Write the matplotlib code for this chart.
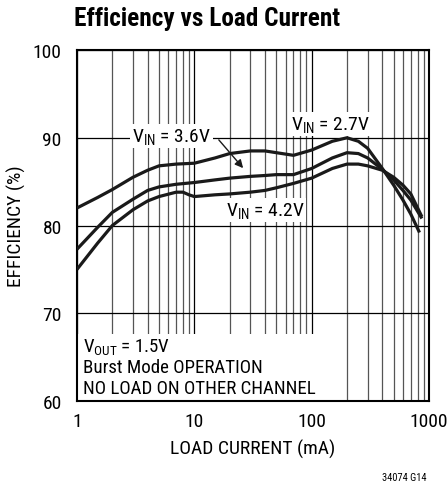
import numpy as np
import matplotlib
matplotlib.use('Agg')
import matplotlib.pyplot as plt
from matplotlib.patches import Rectangle

# load current (mA) and efficiency (%)
load_a = [1, 1.5, 2, 3, 4, 5, 7, 10, 15, 20, 30, 40, 50, 70, 100, 150, 200, 250, 300, 400, 500, 600, 700, 830]
eff_a = [82.0, 83.2, 84.1, 85.5, 86.3, 86.8, 87.0, 87.1, 87.7, 88.2, 88.5, 88.5, 88.3, 88.0, 88.6, 89.6, 90.0, 89.6, 88.8, 86.5, 84.6, 82.9, 81.3, 79.2]

load_b = [1, 1.5, 2, 3, 4, 5, 7, 10, 15, 20, 30, 40, 50, 70, 100, 150, 200, 250, 300, 400, 500, 600, 700, 870]
eff_b = [77.3, 79.8, 81.5, 83.0, 84.0, 84.4, 84.7, 84.9, 85.2, 85.4, 85.6, 85.7, 85.8, 85.8, 86.5, 87.7, 88.3, 88.2, 87.7, 86.4, 85.2, 84.0, 82.9, 80.8]

load_c = [1, 1.5, 2, 3, 4, 5, 7, 8, 9, 10, 15, 20, 30, 40, 50, 70, 100, 150, 200, 250, 300, 400, 500, 600, 700, 870]
eff_c = [75.0, 78.0, 80.0, 81.8, 82.8, 83.3, 83.8, 83.8, 83.5, 83.3, 83.5, 83.6, 83.8, 84.0, 84.3, 84.8, 85.4, 86.5, 87.0, 87.0, 86.8, 86.3, 85.5, 84.6, 83.6, 81.0]

x_ticks = [1, 10, 100, 1000]
x_ticklabels = ['1', '10', '100', '1000']
y_ticks = [60, 70, 80, 90, 100]

font = ['Roboto Condensed', 'Liberation Sans', 'DejaVu Sans']
plt.rcParams['font.family'] = font
plt.rcParams['mathtext.fontset'] = 'custom'
plt.rcParams['mathtext.rm'] = font[0]
plt.rcParams['mathtext.it'] = font[0]

fig = plt.figure(figsize=(4.47, 4.85), dpi=100)
ax = fig.add_axes([0.1723, 0.1711, 0.7874, 0.7237])
ax.set_axisbelow(True)

ax.set_xscale('log')
ax.set_xlim(1, 1000)
ax.set_ylim(60, 100)
ax.set_xticks(x_ticks)
ax.set_xticklabels(x_ticklabels)
ax.set_yticks(y_ticks)
ax.xaxis.set_minor_locator(matplotlib.ticker.LogLocator(base=10, subs=np.arange(2, 10)))
ax.xaxis.set_minor_formatter(matplotlib.ticker.NullFormatter())
ax.tick_params(which='both', length=0, labelsize=14)
ax.tick_params(axis='x', pad=8)
ax.tick_params(axis='y', pad=11)

ax.grid(True, which='major', color='black', lw=0.9)
ax.grid(True, which='minor', axis='x', color='#555555', lw=0.9)
for s in ax.spines.values():
    s.set_linewidth(1.5)

for xs, ys in [(load_a, eff_a), (load_b, eff_b), (load_c, eff_c)]:
    ax.plot(xs, ys, color='#1a1a1a', lw=2.3, zorder=3, solid_capstyle='butt')

# white area behind the notes
ax.add_patch(Rectangle((0, 0), 0.68, 0.19, transform=ax.transAxes,
                       facecolor='white', edgecolor='none', zorder=1))

box = dict(facecolor='white', edgecolor='none', pad=1.5)
ax.text(6.4, 90.2, r'V$_{\mathrm{IN}}$ = 3.6V', fontsize=14, ha='center', va='center', bbox=box, zorder=4)
ax.text(143, 91.6, r'V$_{\mathrm{IN}}$ = 2.7V', fontsize=14, ha='center', va='center', bbox=box, zorder=4)
ax.text(40, 81.8, r'V$_{\mathrm{IN}}$ = 4.2V', fontsize=14, ha='center', va='center', bbox=box, zorder=4)
ax.annotate('', xy=(27, 86.3), xytext=(15.6, 90.0),
            arrowprops=dict(arrowstyle='-|>', color='#1a1a1a', lw=1.0, mutation_scale=12),
            zorder=4)

ax.text(0.017, 0.142, r'V$_{\mathrm{OUT}}$ = 1.5V', transform=ax.transAxes, fontsize=13.6, va='baseline', zorder=4)
ax.text(0.017, 0.083, 'Burst Mode OPERATION', transform=ax.transAxes, fontsize=13.6, va='baseline', zorder=4)
ax.text(0.017, 0.023, 'NO LOAD ON OTHER CHANNEL', transform=ax.transAxes, fontsize=13.6, va='baseline', zorder=4)

ax.set_xlabel('LOAD CURRENT (mA)', fontsize=14, labelpad=6)
ax.set_ylabel('EFFICIENCY (%)', fontsize=14, labelpad=5)

fig.text(0.166, 0.960, 'Efficiency vs Load Current', fontsize=18.2, fontweight='bold', va='center', ha='left')
fig.text(0.904, 0.004, '34074 G14', fontsize=7.5, ha='center', va='bottom')

fig.savefig('out.png', dpi=100)
